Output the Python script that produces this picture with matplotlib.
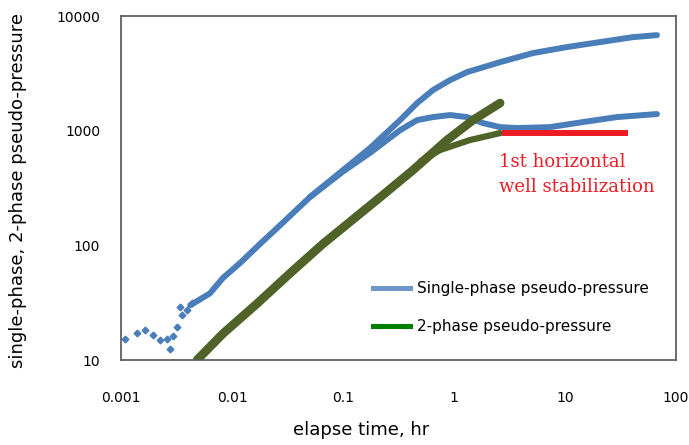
import matplotlib.pyplot as plt
from matplotlib.lines import Line2D

# early noisy single-phase points (drawn as separate markers)
blue_early_t = [0.00109, 0.00139, 0.00164, 0.00194, 0.00225, 0.00259, 0.00276, 0.00294,
                0.0032, 0.0034, 0.00354, 0.0039, 0.00436]
blue_early_p = [15.2, 17.2, 18.3, 16.5, 14.9, 15.2, 12.5, 16.2,
                19.4, 29.0, 24.7, 27.3, 31.4]

# single-phase pseudo-pressure
blue_t = [0.0042, 0.0063, 0.0083, 0.0118, 0.0179, 0.0254, 0.0505, 0.1, 0.175, 0.327,
          0.465, 0.647, 0.921, 1.31, 2.6, 5.15, 10.4, 20.6, 41, 67.4]
blue_p = [30, 38, 52, 70, 103, 141, 264, 453, 705, 1236,
          1740, 2260, 2760, 3240, 3960, 4750, 5360, 5920, 6540, 6810]

# single-phase lower curve
blue2_t = [0.0505, 0.1, 0.175, 0.327, 0.465, 0.647, 0.921, 1.31, 1.82, 2.6,
           3.7, 7.33, 14.5, 29.4, 67.4]
blue2_p = [264, 440, 640, 1010, 1236, 1314, 1368, 1314, 1165, 1074,
           1054, 1074, 1188, 1314, 1396]

# 2-phase pseudo-pressure
green_t = [0.00484, 0.0083, 0.0168, 0.0333, 0.066, 0.134, 0.229, 0.428, 0.865, 1.48, 2.6]
green_p = [10, 17, 31, 57, 103, 180, 275, 454, 828, 1236, 1740]

green2_t = [0.5, 0.75, 1.39, 2.6]
green2_p = [540, 678, 828, 953]

# stabilization line
red_t = [2.7, 37]
red_p = [953, 953]

xticks = [0.001, 0.01, 0.1, 1, 10, 100]
xtick_labels = ['0.001', '0.01', '0.1', '1', '10', '100']
yticks = [10, 100, 1000, 10000]
ytick_labels = ['10', '100', '1000', '10000']
legend_labels = ['Single-phase pseudo-pressure', '2-phase pseudo-pressure']

blue = '#4A7EBB'
green = '#4F6228'
red = '#ED1C24'

fig = plt.figure(figsize=(6.89, 4.45), dpi=100)
ax = fig.add_axes([121/689, 1-360/445, 555/689, 344/445])

ax.plot(blue_early_t, blue_early_p, 'D', color=blue, ms=3.4, mec=blue)
ax.plot(blue_t, blue_p, color=blue, lw=4.3, solid_capstyle='round', solid_joinstyle='round')
ax.plot(blue2_t, blue2_p, color=blue, lw=4.3, solid_capstyle='round', solid_joinstyle='round')
ax.plot(green_t, green_p, color=green, lw=6.3, solid_capstyle='round', solid_joinstyle='round')
ax.plot(green2_t, green2_p, color=green, lw=4.5, solid_capstyle='round', solid_joinstyle='round')
ax.plot(red_t, red_p, color=red, lw=4.3, solid_capstyle='butt')

ax.set_xscale('log')
ax.set_yscale('log')
ax.set_xlim(0.001, 100)
ax.set_ylim(10, 10000)
ax.minorticks_off()
ax.set_xticks(xticks)
ax.set_xticklabels(xtick_labels)
ax.set_yticks(yticks)
ax.set_yticklabels(ytick_labels)
ax.tick_params(axis='x', length=0, pad=22, labelsize=10)
ax.tick_params(axis='y', length=0, pad=15, labelsize=10)
for s in ax.spines.values():
    s.set_color('#606060')
    s.set_linewidth(1.3)

fig.text(361/689, 1-435/445, 'elapse time, hr', ha='center', va='baseline', fontsize=13)
fig.text(18/689, 1-191/445, 'single-phase, 2-phase pseudo-pressure', rotation=90,
         ha='center', va='center', fontsize=13)

fig.text(499/689, 1-162/445, '1st horizontal', color=red, fontsize=13,
         family='DejaVu Serif', va='center')
fig.text(499/689, 1-187/445, 'well stabilization', color=red, fontsize=13,
         family='DejaVu Serif', va='center')

handles = [Line2D([], [], color='#7096C8', lw=3.6),
           Line2D([], [], color='#008000', lw=3.6)]
ax.legend(handles, legend_labels, loc='upper left', bbox_to_anchor=(373/689, 1-281/445),
          bbox_transform=fig.transFigure, frameon=False, handlelength=2.45,
          handletextpad=0.4, labelspacing=1.5, borderpad=0, borderaxespad=0, fontsize=11)

fig.savefig('out.png', dpi=100)
